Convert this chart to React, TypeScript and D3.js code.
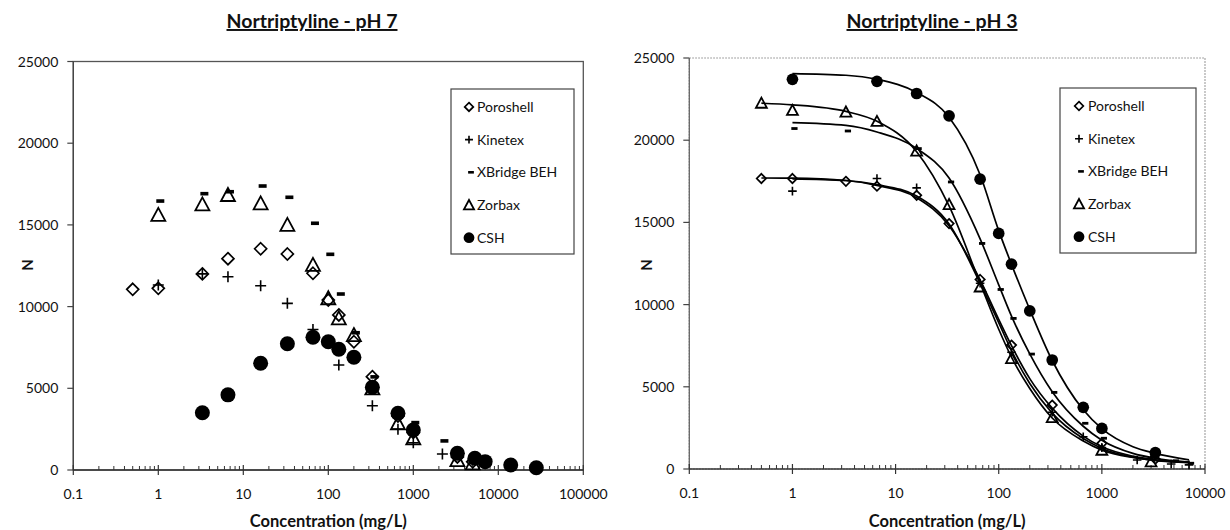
import React, { useEffect, useRef } from 'react';
import * as d3 from 'd3';

// ---------- pH 7 (left) ----------
const seriesNames = ['Poroshell', 'Kinetex', 'XBridge BEH', 'Zorbax', 'CSH'];
const markerTypes = ['diamond', 'plus', 'dash', 'triangle', 'circle'];

const ph7PoroshellConc = [0.5, 1, 3.3, 6.6, 16, 33, 66, 100, 133, 200, 330, 660, 1000, 3300, 5000];
const ph7PoroshellN = [11060, 11120, 12000, 12930, 13540, 13220, 12040, 10400, 9490, 7850, 5710, 3300, 2300, 800, 500];

const ph7KinetexConc = [1, 3.3, 6.6, 16, 33, 66, 133, 330, 660, 1000, 2200, 5000];
const ph7KinetexN = [11320, 12000, 11830, 11280, 10200, 8600, 6430, 3935, 2490, 1670, 980, 600];

const ph7XBridgeConc = [1, 3.3, 6.6, 16, 33, 66, 100, 133, 200, 330, 660, 1000, 2200, 3300, 5000];
const ph7XBridgeN = [16460, 16910, 17030, 17380, 16690, 15100, 13200, 10770, 8400, 5700, 3450, 2900, 1780, 1050, 600];

const ph7ZorbaxConc = [1, 3.3, 6.6, 16, 33, 66, 100, 133, 200, 330, 660, 1000, 3300, 5000];
const ph7ZorbaxN = [15610, 16260, 16830, 16320, 15000, 12550, 10510, 9280, 8260, 5000, 2860, 1940, 610, 410];

const ph7CSHConc = [3.3, 6.6, 16, 33, 66, 100, 133, 200, 330, 660, 1000, 3300, 5300, 7000, 14000, 28000];
const ph7CSHN = [3500, 4600, 6530, 7730, 8120, 7850, 7390, 6900, 5060, 3470, 2450, 1020, 720, 510, 310, 140];

// ---------- pH 3 (right) ----------
const ph3PoroshellConc = [0.5, 1, 3.3, 6.6, 16, 33, 66, 133, 330, 1000, 3300];
const ph3PoroshellN = [17670, 17670, 17500, 17200, 16650, 14930, 11530, 7540, 3890, 1560, 600];

const ph3KinetexConc = [1, 6.6, 16, 66, 133, 330, 660, 1000, 2200, 4700, 7000];
const ph3KinetexN = [16900, 17670, 17100, 11300, 7100, 3450, 1960, 1300, 550, 300, 250];

const ph3XBridgeConc = [1, 3.3, 16, 33, 66, 100, 133, 200, 330, 660, 1000, 5000, 7000];
const ph3XBridgeN = [20710, 20560, 19490, 17460, 13720, 10920, 9160, 6990, 4660, 2780, 1870, 500, 350];

const ph3ZorbaxConc = [0.5, 1, 3.3, 6.6, 16, 33, 66, 133, 330, 1000, 3000];
const ph3ZorbaxN = [22260, 21820, 21720, 21150, 19350, 16090, 11080, 6730, 3140, 1150, 450];

const ph3CSHConc = [1, 6.6, 16, 33, 66, 100, 133, 200, 330, 660, 1000, 3300];
const ph3CSHN = [23700, 23580, 22840, 21480, 17630, 14330, 12460, 9620, 6630, 3750, 2470, 990];

// fitted curves
const fitConc = [0.5, 1, 3.3, 6.6, 16, 33, 66, 100, 133, 200, 330, 660, 1000, 2000, 3300, 7000];
const fitPoroshellN = [17700, 17690, 17550, 17250, 16500, 14800, 11500, 9100, 7500, 5500, 3700, 2000, 1350, 780, 560, 400];
const fitKinetexN = [NaN, 17650, 17550, 17300, 16600, 14900, 11300, 8900, 7200, 5200, 3400, 1850, 1250, 720, 520, 380];
const fitXBridgeN = [NaN, 21070, 20900, 20500, 19500, 17700, 14000, 11200, 9300, 7000, 4700, 2600, 1750, 950, 650, 420];
const fitZorbaxN = [22250, 22150, 21750, 21150, 19300, 16000, 11300, 8500, 6800, 4900, 3100, 1700, 1150, 700, 520, 400];
const fitCSHN = [NaN, 24050, 23950, 23700, 22900, 21400, 17900, 14500, 12450, 9700, 6600, 3600, 2450, 1350, 950, 550];

const yTicks = [0, 5000, 10000, 15000, 20000, 25000];
const xTicksLeft = [0.1, 1, 10, 100, 1000, 10000, 100000];
const xTicksRight = [0.1, 1, 10, 100, 1000, 10000];

const FONT = "Lato, 'Open Sans', sans-serif";

type Panel = {
  x0: number; x1: number; yTop: number; yBot: number;
  xDomain: [number, number]; xTicks: number[];
  title: string; titleX: number; nX: number;
  dotted: boolean; ms: number;
  legend: { x: number; y: number; w: number; h: number; symX: number; textX: number; rows: number[] };
  series: { conc: number[]; n: number[] }[];
  fits: number[][] | null;
};

function drawMarker(g: any, type: string, cx: number, cy: number, s: number) {
  if (type === 'diamond') {
    const h = 6 * s;
    g.append('path').attr('d', `M${cx},${cy - h}L${cx + h},${cy}L${cx},${cy + h}L${cx - h},${cy}Z`)
      .attr('fill', 'none').attr('stroke', '#000').attr('stroke-width', 1.7);
  } else if (type === 'plus') {
    const h = 5.5 * s;
    g.append('path').attr('d', `M${cx - h},${cy}H${cx + h}M${cx},${cy - h}V${cy + h}`)
      .attr('stroke', '#000').attr('stroke-width', 1.6);
  } else if (type === 'dash') {
    g.append('rect').attr('x', cx - 4 * s + 2).attr('y', cy - 1.8 * s).attr('width', 8 * s).attr('height', 3.6 * s)
      .attr('fill', '#000');
  } else if (type === 'triangle') {
    const w = 7 * s;
    g.append('path').attr('d', `M${cx},${cy - w}L${cx + w},${cy + 6 * s}L${cx - w},${cy + 6 * s}Z`)
      .attr('fill', 'none').attr('stroke', '#000').attr('stroke-width', 1.8);
  } else {
    g.append('circle').attr('cx', cx).attr('cy', cy).attr('r', 7.5 * s).attr('fill', '#000');
  }
}

function drawPanel(svg: any, p: Panel) {
  const x = d3.scaleLog().domain(p.xDomain).range([p.x0, p.x1]);
  const y = d3.scaleLinear().domain([0, 25000]).range([p.yBot, p.yTop]);
  const g = svg.append('g');

  // plot border
  g.append('rect').attr('x', p.x0).attr('y', p.yTop).attr('width', p.x1 - p.x0).attr('height', p.yBot - p.yTop)
    .attr('fill', 'none').attr('stroke', p.dotted ? '#888' : '#555').attr('stroke-width', p.dotted ? 1.2 : 1.3)
    .attr('stroke-dasharray', p.dotted ? '1.5,1.5' : null);

  // y axis
  g.append('line').attr('x1', p.x0).attr('x2', p.x0).attr('y1', p.yTop).attr('y2', p.yBot)
    .attr('stroke', p.dotted ? '#666' : '#444').attr('stroke-width', 1.3);
  yTicks.forEach(t => {
    g.append('line').attr('x1', p.x0 - 6).attr('x2', p.x0).attr('y1', y(t)).attr('y2', y(t))
      .attr('stroke', '#444').attr('stroke-width', 1.2);
    g.append('text').attr('x', p.x0 - 15).attr('y', y(t) + 5).attr('text-anchor', 'end')
      .attr('font-family', FONT).attr('font-size', 14).attr('fill', '#111').text(String(t));
  });

  // x axis
  g.append('line').attr('x1', p.x0).attr('x2', p.x1).attr('y1', p.yBot).attr('y2', p.yBot)
    .attr('stroke', '#333').attr('stroke-width', 1.3);
  p.xTicks.forEach((t, i) => {
    g.append('line').attr('x1', x(t)).attr('x2', x(t)).attr('y1', p.yBot - 5).attr('y2', p.yBot + 5)
      .attr('stroke', '#333').attr('stroke-width', 1.2);
    g.append('text').attr('x', x(t)).attr('y', p.yBot + 29).attr('text-anchor', 'middle')
      .attr('font-family', FONT).attr('font-size', 14).attr('fill', '#111').text(String(t));
    if (i < p.xTicks.length - 1) {
      for (let k = 2; k <= 9; k++) {
        const v = t * k;
        g.append('line').attr('x1', x(v)).attr('x2', x(v)).attr('y1', p.yBot - 4).attr('y2', p.yBot)
          .attr('stroke', '#333').attr('stroke-width', 1);
      }
    }
  });

  // titles
  g.append('text').attr('x', p.titleX).attr('y', 28).attr('text-anchor', 'middle')
    .attr('font-family', FONT).attr('font-size', 19.5).attr('font-weight', 'bold')
    .attr('text-decoration', 'underline').attr('fill', '#111').text(p.title);
  g.append('text').attr('x', (p.x0 + p.x1) / 2).attr('y', 527).attr('text-anchor', 'middle')
    .attr('font-family', FONT).attr('font-size', 16.5).attr('font-weight', 'bold').attr('fill', '#111')
    .text('Concentration (mg/L)');
  g.append('text').attr('transform', `translate(${p.nX},265) rotate(-90)`).attr('text-anchor', 'middle')
    .attr('font-family', FONT).attr('font-size', 15).attr('font-weight', 'bold').attr('fill', '#111').text('N');

  // fitted curves
  if (p.fits) {
    const line = d3.line<[number, number]>().x(d => x(d[0])).y(d => y(d[1])).curve(d3.curveMonotoneX);
    p.fits.forEach(vals => {
      const pts: [number, number][] = [];
      fitConc.forEach((c, i) => { if (!isNaN(vals[i])) pts.push([c, vals[i]]); });
      g.append('path').attr('d', line(pts)).attr('fill', 'none').attr('stroke', '#000').attr('stroke-width', 1.7);
    });
  }

  // points
  p.series.forEach((s, si) => {
    s.conc.forEach((c, i) => drawMarker(g, markerTypes[si], x(c), y(s.n[i]), p.ms));
  });

  // legend
  const L = p.legend;
  g.append('rect').attr('x', L.x).attr('y', L.y).attr('width', L.w).attr('height', L.h)
    .attr('fill', '#fff').attr('stroke', '#444').attr('stroke-width', 1.2);
  seriesNames.forEach((nm, i) => {
    drawMarker(g, markerTypes[i], L.symX, L.rows[i], 0.72);
    g.append('text').attr('x', L.textX).attr('y', L.rows[i] + 5).attr('font-family', FONT)
      .attr('font-size', 14).attr('fill', '#111').text(nm);
  });
}

export default function App() {
  const ref = useRef<SVGSVGElement>(null);
  useEffect(() => {
    const svg = d3.select(ref.current);
    svg.selectAll('*').remove();
    drawPanel(svg, {
      x0: 73.3, x1: 583.3, yTop: 61.5, yBot: 470, xDomain: [0.1, 100000], xTicks: xTicksLeft,
      title: 'Nortriptyline - pH 7', titleX: 312, nX: 33, dotted: false, ms: 1,
      legend: { x: 451, y: 89, w: 123, h: 165, symX: 469, textX: 477, rows: [106.9, 139.6, 172.3, 205, 237.7] },
      series: [
        { conc: ph7PoroshellConc, n: ph7PoroshellN },
        { conc: ph7KinetexConc, n: ph7KinetexN },
        { conc: ph7XBridgeConc, n: ph7XBridgeN },
        { conc: ph7ZorbaxConc, n: ph7ZorbaxN },
        { conc: ph7CSHConc, n: ph7CSHN },
      ],
      fits: null,
    });
    drawPanel(svg, {
      x0: 689.3, x1: 1205, yTop: 58, yBot: 469, xDomain: [0.1, 10000], xTicks: xTicksRight,
      title: 'Nortriptyline - pH 3', titleX: 932, nX: 652, dotted: true, ms: 0.78,
      legend: { x: 1060, y: 88, w: 136, h: 165, symX: 1079, textX: 1088, rows: [106, 138.7, 171.4, 204, 236.7] },
      series: [
        { conc: ph3PoroshellConc, n: ph3PoroshellN },
        { conc: ph3KinetexConc, n: ph3KinetexN },
        { conc: ph3XBridgeConc, n: ph3XBridgeN },
        { conc: ph3ZorbaxConc, n: ph3ZorbaxN },
        { conc: ph3CSHConc, n: ph3CSHN },
      ],
      fits: [fitPoroshellN, fitKinetexN, fitXBridgeN, fitZorbaxN, fitCSHN],
    });
  }, []);
  return (
    <svg ref={ref} width={1230} height={530}
      style={{ position: 'absolute', left: 0, top: 0, background: '#fff' }} />
  );
}
